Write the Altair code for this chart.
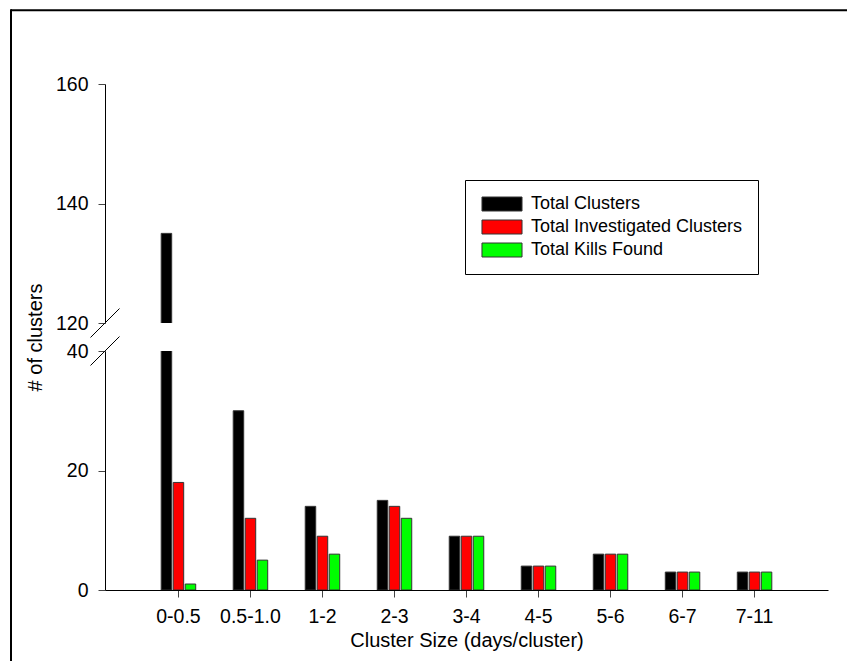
import altair as alt
import pandas as pd

categories = ["0-0.5", "0.5-1.0", "1-2", "2-3", "3-4", "4-5", "5-6", "6-7", "7-11"]
series = ["Total Clusters", "Total Investigated Clusters", "Total Kills Found"]
total_clusters = [135, 30, 14, 15, 9, 4, 6, 3, 3]
investigated = [18, 12, 9, 14, 9, 4, 6, 3, 3]
kills_found = [1, 5, 6, 12, 9, 4, 6, 3, 3]
colors = ["#000000", "#FF0000", "#00FF00"]
upper_ticks = [120, 140, 160]
lower_ticks = [0, 20, 40]

rows = []
for s, vals in zip(series, [total_clusters, investigated, kills_found]):
    for c, v in zip(categories, vals):
        rows.append({"category": c, "series": s, "value": v})
df = pd.DataFrame(rows)
dummy = pd.DataFrame({"a": [0]})

W = 723
H = 239
FONT = "Liberation Sans"

x_scale = alt.Scale(paddingInner=0, paddingOuter=0.52)
xo = alt.XOffset("series:N",
                 scale=alt.Scale(domain=["_l"] + series + ["_r"],
                                 paddingInner=0.125, paddingOuter=0.5625))
legend = alt.Legend(
    title=None, orient="none", legendX=360, legendY=96, direction="vertical",
    strokeColor="black", padding=15, fillColor="white",
    symbolType="M-2.86,-1L2.86,-1L2.86,1L-2.86,1Z", symbolSize=196,
    symbolStrokeColor="#333333", symbolStrokeWidth=1, symbolOffset=13,
    symbolOpacity=1, labelFontSize=18, labelOffset=20, rowPadding=5,
    labelColor="black", labelFont=FONT, labelLimit=0,
)
color = alt.Color("series:N", sort=series,
                  scale=alt.Scale(domain=series, range=colors), legend=legend)

axis_common = dict(labelFontSize=19.5, labelFont=FONT, labelColor="black",
                   tickSize=7, tickColor="#444444", domainColor="black",
                   domainWidth=1, grid=False, titleFont=FONT, titleFontSize=20,
                   titleFontWeight="normal", titleColor="black")


def bars(domain, x_axis, y_axis):
    return alt.Chart(df).mark_bar(clip=True, stroke="#333333", strokeWidth=1).encode(
        x=alt.X("category:N", sort=categories, scale=x_scale, axis=x_axis),
        xOffset=xo,
        y=alt.Y("value:Q", scale=alt.Scale(domain=domain, nice=False, zero=False),
                axis=y_axis),
        color=color,
    )


def line(x1, y1, x2, y2, w=1, c="black"):
    return alt.Chart(dummy).mark_rule(color=c, strokeWidth=w).encode(
        x=alt.value(x1), y=alt.value(y1), x2=alt.value(x2), y2=alt.value(y2))


upper_y_axis = alt.Axis(values=upper_ticks, title=None, labelPadding=10, **axis_common)
lower_y_axis = alt.Axis(values=lower_ticks, title="# of clusters", labelPadding=10,
                        titleX=-69.5, titleY=-14, titleAngle=-90, titleAlign="center",
                        titleBaseline="middle", **axis_common)
lower_x_axis = alt.Axis(title="Cluster Size (days/cluster)", labelAngle=0,
                        labelPadding=10, titlePadding=5, **axis_common)

upper = alt.layer(
    bars([120, 160], None, upper_y_axis),
    line(-94, -73.7, 742, -73.7, w=2),
    line(-94, -74.7, -94, 577, w=2),
    line(-14.5, H + 14.5, 14.5, H - 14.5),
).properties(width=W, height=H)

lower = alt.layer(
    bars([0, 40], lower_x_axis, lower_y_axis),
    line(-14.5, 14.5, 14.5, -14.5),
).properties(width=W, height=H)

chart = alt.vconcat(upper, lower, spacing=28, bounds="flush").resolve_scale(
    color="shared", x="shared"
).configure(
    font=FONT,
    padding={"left": 2, "top": 0, "right": 0, "bottom": 0},
).configure_view(stroke=None)

chart.save("out.html", embed_options={"renderer": "svg", "actions": False})
